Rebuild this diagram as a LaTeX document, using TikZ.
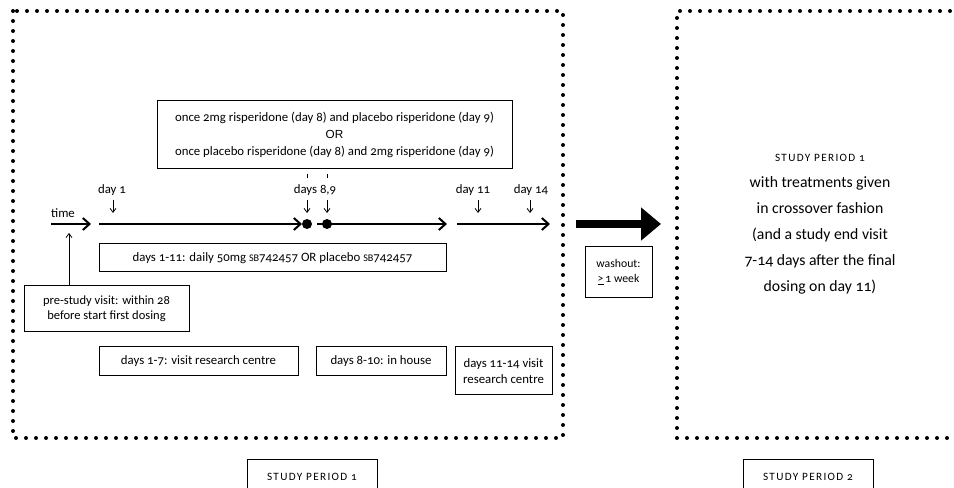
\documentclass[tikz,border=0pt]{standalone}
\usepackage{fontspec}
\setmainfont{Carlito}[Numbers=OldStyle]
\newfontfamily\orfont{Liberation Sans}
\usetikzlibrary{arrows.meta}
\newcommand{\scx}[1]{{\fontsize{8.4}{10}\selectfont\addfontfeature{LetterSpace=12}#1}}
\newcommand{\sbx}[1]{{\fontsize{7.6}{8}\selectfont #1}}
\tikzset{
  box/.style={draw, line width=0.75pt, inner sep=0pt, align=center, font=\fontsize{9.6}{12.5}\selectfont},
  dotframe/.style={line width=3pt, line cap=round, dash pattern=on 0pt off 7.5pt},
  tline/.style={line width=1.5pt, -{Straight Barb[length=5pt,width=9pt,line width=1.5pt]}},
  marker/.style={line width=0.6pt, -{Straight Barb[length=3pt,width=4.5pt,line width=0.6pt]}},
  lbl/.style={inner sep=0pt, font=\fontsize{9.6}{12}\selectfont},
  dot/.style={circle, fill=black, inner sep=0pt, minimum size=7.5pt},
}
\begin{document}
\begin{tikzpicture}[x=0.75pt,y=-0.75pt]
\clip (0,0) rectangle (954,488);
\fill[white] (0,0) rectangle (954,488);
% frames
\draw[dotframe] (13,11) rectangle (563,438);
\draw[dotframe] (1010,11) -- (677,11) -- (677,438) -- (1010,438);
% boxes
\node[box, minimum width=266.25pt, minimum height=51pt] (top) at (334.5,135)
 {once 2mg risperidone (day 8) and placebo risperidone (day 9)\\ {\orfont\fontsize{8.8}{12.5}\selectfont OR}\\ once placebo risperidone (day 8) and 2mg risperidone (day 9)};
\node[box, minimum width=260.25pt, minimum height=21pt] (daily) at (272.5,258)
 {days 1-11: daily 50mg \sbx{SB}742457 OR placebo \sbx{SB}742457};
\node[box, minimum width=123.75pt, minimum height=34.5pt, font=\fontsize{9.4}{11.25}\selectfont] (pre) at (106.5,309)
 {pre-study visit: within 28\\ before start first dosing};
\node[box, minimum width=149.25pt, minimum height=21.75pt] (d17) at (198.5,361.5)
 {days 1-7: visit research centre};
\node[box, minimum width=97.5pt, minimum height=21.75pt] (d810) at (381,361.5)
 {days 8-10: in house};
\node[box, minimum width=72.75pt, minimum height=36pt] (d1114) at (503.5,371)
 {days 11-14 visit\\ research centre};
\node[box, minimum width=50.25pt, minimum height=38.25pt, font=\fontsize{8.8}{11}\selectfont] (wash) at (618.5,272.5)
 {washout:\\ \underline{>}\,1 week};
\node[box, minimum width=97.5pt, minimum height=25.5pt] (sp1) at (312,477) {\scx{STUDY PERIOD 1}};
\node[box, minimum width=97.5pt, minimum height=25.5pt] (sp2) at (808,477) {\scx{STUDY PERIOD 2}};
\node[align=center, inner sep=0pt, font=\fontsize{11.8}{19.5}\selectfont] (second) at (820,224.5)
 {\scx{STUDY PERIOD 1}\\ with treatments given\\ in crossover fashion\\ (and a study end visit\\ 7-14 days after the final\\ dosing on day 11)};
% timeline
\coordinate (t0) at (51,224); \coordinate (t1) at (91,224);
\coordinate (a0) at (99,224); \coordinate (a1) at (302,224);
\node[dot] (d8) at (307,224) {};
\coordinate (b0) at (317,224);
\node[dot] (d9) at (327,224) {};
\coordinate (b1) at (447,224);
\coordinate (c0) at (457,224); \coordinate (c1) at (550,224);
\draw[tline] (t0) -- (t1);
\draw[tline] (a0) -- (a1);
\draw[line width=1.5pt] (b0) -- (d9.center);
\draw[tline] (d9.center) -- (b1);
\draw[tline] (c0) -- (c1);
\node[lbl, anchor=south] (time) at (63,218) {time};
% day markers
\node[lbl] (l1) at (112,190) {day 1};
\node[lbl] (l89) at (315,190) {days 8,9};
\node[lbl] (l11) at (473,190) {day 11};
\node[lbl] (l14) at (531,190) {day 14};
\coordinate (m1a) at (113,200); \coordinate (m1b) at (113,213);
\coordinate (m8a) at (307,200); \coordinate (m8b) at (307,213);
\coordinate (m9a) at (327,200); \coordinate (m9b) at (327,213);
\coordinate (m11a) at (478,200); \coordinate (m11b) at (478,213);
\coordinate (m14a) at (530,200); \coordinate (m14b) at (530,213);
\draw[marker] (m1a) -- (m1b);
\draw[marker] (m8a) -- (m8b);
\draw[marker] (m9a) -- (m9b);
\draw[marker] (m11a) -- (m11b);
\draw[marker] (m14a) -- (m14b);
\coordinate (k8a) at (307,174); \coordinate (k8b) at (307,178);
\coordinate (k9a) at (327,174); \coordinate (k9b) at (327,178);
\draw[line width=0.75pt] (k8a) -- (k8b);
\draw[line width=0.75pt] (k9a) -- (k9b);
% pre-study arrow
\coordinate (ptip) at (69,233);
\draw[marker, line width=0.75pt] (pre.north -| ptip) -- (ptip);
% big arrow
\coordinate (ba0) at (576,224); \coordinate (ba1) at (661,224);
\draw[line width=6pt, -{Triangle[length=15pt,width=24pt]}] (ba0) -- (ba1);
\end{tikzpicture}
\end{document}
